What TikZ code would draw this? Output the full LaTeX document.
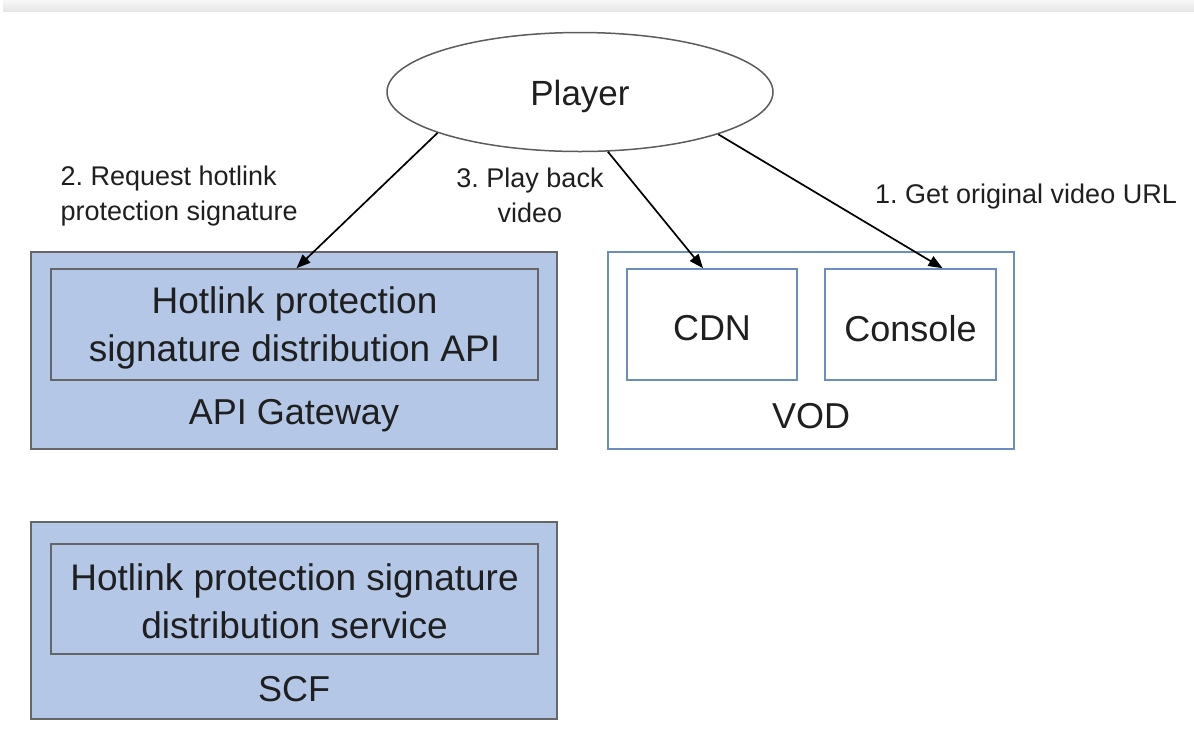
\documentclass[tikz,border=0pt]{standalone}
\usepackage{fontspec}
\setmainfont{Liberation Sans}
\frenchspacing
\usetikzlibrary{arrows.meta,shapes.geometric}
\definecolor{boxfill}{HTML}{B4C7E7}
\definecolor{boxgray}{HTML}{666666}
\definecolor{vodblue}{HTML}{6C8EBF}
\definecolor{txt}{HTML}{1F1F1F}
\begin{document}
\begin{tikzpicture}[x=1pt,y=-1pt,
  every node/.style={text=txt},
  outerbox/.style={draw=boxgray, fill=boxfill, line width=1.6pt, minimum width=526pt, minimum height=197pt, inner sep=0pt},
  innerbox/.style={draw=boxgray, fill=boxfill, line width=1.6pt, minimum width=487pt, minimum height=111pt, inner sep=0pt},
  vodbox/.style={draw=vodblue, fill=white, line width=1.6pt, inner sep=0pt, minimum height=111pt},
  boxtext/.style={align=center, font=\fontsize{37}{48}\selectfont},
  boxlabel/.style={font=\fontsize{36}{48}\selectfont},
  steplabel/.style={font=\fontsize{27}{35}\selectfont},
  conn/.style={line width=1.7pt, black, -{Triangle[length=14pt,width=11pt]}}
]
\useasboundingbox (0,0) rectangle (1194,740);
\shade[top color=white!97!black, bottom color=white!90!black] (3,0) rectangle (1194,11);

% Player
\node[ellipse, draw=boxgray!90!black, line width=1.5pt, fill=white, minimum width=386pt, minimum height=119pt, inner sep=0pt] (player) at (580,92) {};
\node[font=\fontsize{35}{42}\selectfont] (playertxt) at ([yshift=-4pt]player.center) {Player};

% API Gateway
\node[outerbox] (api) at (294,350.5) {};
\node[innerbox] (apiin) at (294.5,324.5) {};
\node[boxtext] (apitxt) at ([yshift=-3pt]apiin.center) {Hotlink protection\\signature distribution API};
\node[boxlabel] (apilbl) at (294,416) {API Gateway};

% VOD
\node[vodbox, minimum width=406pt, minimum height=197pt] (vod) at (811,350.5) {};
\node[vodbox, minimum width=170pt] (cdn) at (712,324.5) {};
\node[boxlabel] (cdntxt) at ([yshift=-4pt]cdn.center) {CDN};
\node[vodbox, minimum width=171pt] (console) at (910.5,324.5) {};
\node[boxlabel] (contxt) at ([yshift=-4pt]console.center) {Console};
\node[boxlabel] (vodlbl) at (811,416) {VOD};

% SCF
\node[outerbox] (scf) at (294,620.5) {};
\node[innerbox, minimum height=110pt] (scfin) at (294.5,599) {};
\node[boxtext] (scftxt) at ([yshift=-2pt]scfin.center) {Hotlink protection signature\\distribution service};
\node[boxlabel] (scflbl) at (294,689) {SCF};

% step labels
\node[steplabel, anchor=west, align=left] (l2) at (57,196) {2. Request hotlink\\protection signature};
\node[steplabel, align=center] (l3) at (530,195) {3. Play back\\video};
\node[steplabel] (l1) at (1026,197) {1. Get original video URL};

% connectors
\draw[conn] (player.196) -- ([xshift=2pt]apiin.north);
\draw[conn] (player.295.4) -- ([xshift=-9pt]cdn.north);
\draw[conn] (player.343.7) -- ([xshift=32pt]console.north);
\end{tikzpicture}
\end{document}
